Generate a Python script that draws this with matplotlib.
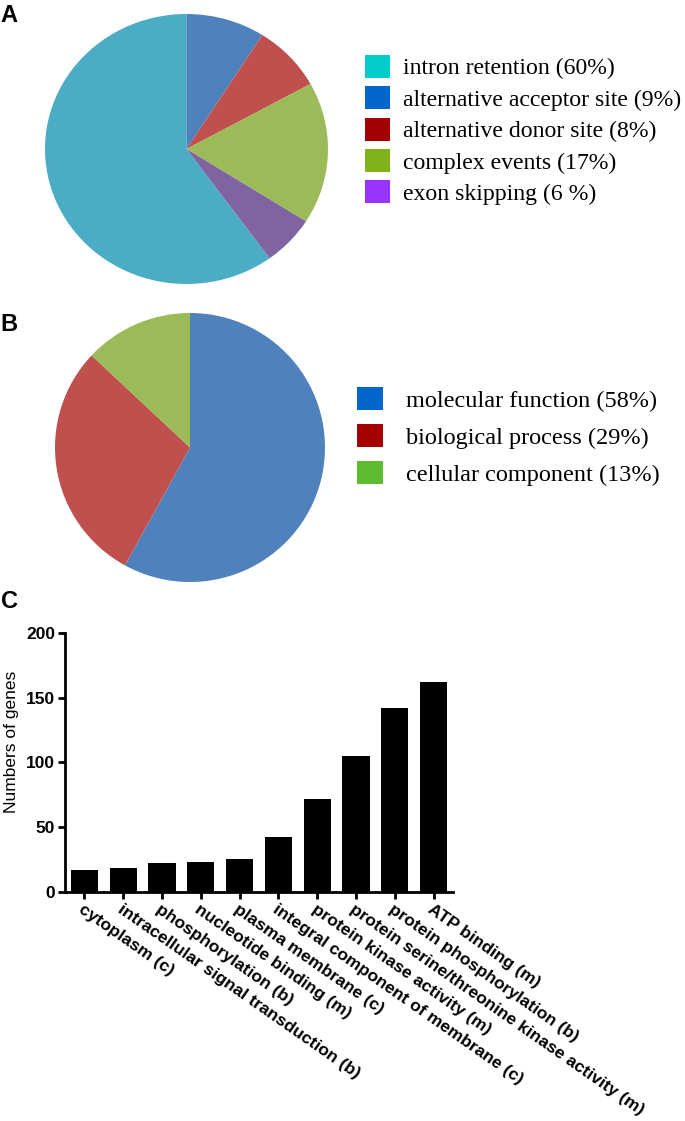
import matplotlib
matplotlib.use("Agg")
import matplotlib.pyplot as plt
from matplotlib.patches import Patch

# panel A: alternative splicing events
as_labels = ["intron retention (60%)", "alternative acceptor site (9%)",
             "alternative donor site (8%)", "complex events (17%)",
             "exon skipping (6 %)"]
as_values = [60, 9, 8, 17, 6]
as_pie_colors = ["#4BACC6", "#4F81BD", "#C0504D", "#9BBB59", "#8064A2"]
as_key_colors = ["#00CCCC", "#0066CC", "#A00000", "#80B31A", "#9933FF"]

# panel B: GO categories
go_labels = ["molecular function (58%)", "biological process (29%)",
             "cellular component (13%)"]
go_values = [58, 29, 13]
go_pie_colors = ["#4F81BD", "#C0504D", "#9BBB59"]
go_key_colors = ["#0066CC", "#A50000", "#5CBB2F"]

# panel C: top GO terms
term_labels = ["cytoplasm (c)", "intracellular signal transduction (b)",
               "phosphorylation (b)", "nucleotide binding (m)",
               "plasma membrane (c)", "integral component of membrane (c)",
               "protein kinase activity (m)",
               "protein serine/threonine kinase activity (m)",
               "protein phosphorylation (b)", "ATP binding (m)"]
term_counts = [17, 18, 22, 23, 25, 42, 72, 105, 142, 162]
y_ticks = [0, 50, 100, 150, 200]

W, H = 685, 1121
fig = plt.figure(figsize=(W / 100, H / 100), dpi=100)


def box(x0, y0, x1, y1):
    # pixel box (top-left origin) -> figure fractions
    return [x0 / W, 1 - y1 / H, (x1 - x0) / W, (y1 - y0) / H]


def pie_panel(rect, values, colors, start):
    ax = fig.add_axes(rect)
    ax.pie(values, colors=colors, startangle=start, counterclock=False,
           wedgeprops=dict(linewidth=0))
    ax.set_aspect("auto")
    ax.set_xlim(-1, 1)
    ax.set_ylim(-1, 1)
    ax.axis("off")
    return ax


# A
pie_panel(box(45, 14, 328, 284), as_values, as_pie_colors,
          90 + as_values[0] / sum(as_values) * 360)
handles = [Patch(facecolor=c, edgecolor="none") for c in as_key_colors]
fig.legend(handles, as_labels, loc="upper left",
           bbox_to_anchor=(365 / W, 1 - 55 / H), frameon=False,
           borderpad=0, borderaxespad=0, handlelength=1.07,
           handleheight=1.1, handletextpad=0.55, labelspacing=0.29,
           prop=dict(family="Liberation Serif", size=17.1))

# B
pie_panel(box(55, 313, 325, 582), go_values, go_pie_colors, 90)
handles = [Patch(facecolor=c, edgecolor="none") for c in go_key_colors]
fig.legend(handles, go_labels, loc="upper left",
           bbox_to_anchor=(357 / W, 1 - 387 / H), frameon=False,
           borderpad=0, borderaxespad=0, handlelength=1.07,
           handleheight=1.1, handletextpad=0.95, labelspacing=0.5,
           prop=dict(family="Liberation Serif", size=17.5))

# C
ax = fig.add_axes(box(65, 633, 453, 891.7))
x = range(len(term_counts))
ax.bar(x, term_counts, width=0.7, color="black")
ax.set_xlim(-0.5, len(term_counts) - 0.5)
ax.set_ylim(0, 200)
ax.set_yticks(y_ticks)
ax.set_xticks(list(x))
ax.set_xticklabels(term_labels, rotation=-35, ha="left",
                   rotation_mode="anchor", fontsize=12.5,
                   fontweight="bold", family="Liberation Sans")
for lab in ax.get_yticklabels():
    lab.set_fontsize(12.5)
    lab.set_fontweight("bold")
    lab.set_family("Liberation Sans")
for side in ("top", "right"):
    ax.spines[side].set_visible(False)
for side in ("left", "bottom"):
    ax.spines[side].set_linewidth(2)
ax.tick_params(width=2, length=5, direction="out", pad=2)
ax.set_ylabel("Numbers of genes", fontsize=12.5, family="Liberation Sans")
ax.yaxis.set_label_coords(-0.118, 0.58)

# panel letters
for letter, top in (("A", 4), ("B", 313), ("C", 590)):
    fig.text(0.5 / W, 1 - top / H, letter, ha="left", va="top",
             fontsize=17, fontweight="bold", family="Liberation Sans")

fig.savefig("out.png", dpi=100)
